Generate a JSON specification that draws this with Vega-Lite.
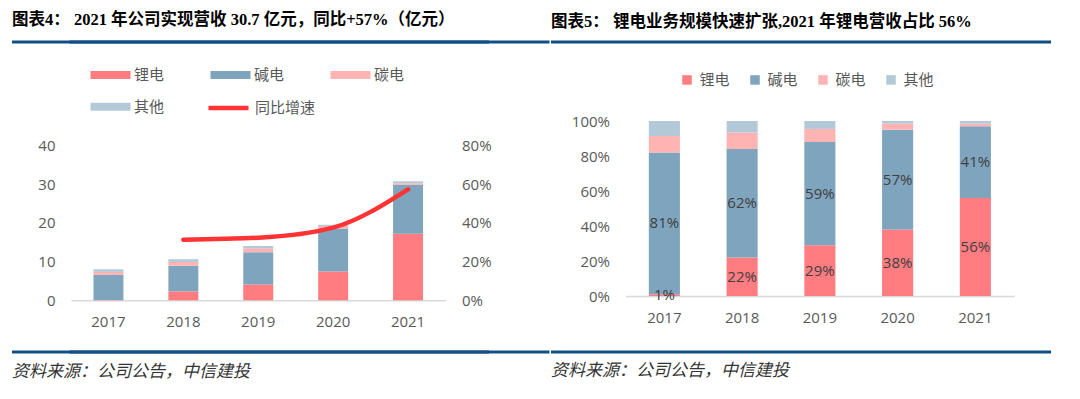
{
  "$schema": "https://vega.github.io/schema/vega-lite/v6.json",
  "padding": {"left": 12, "top": 12, "right": 0, "bottom": 8},
  "background": "white",
  "spacing": 10,
  "resolve": {"scale": {"color": "independent", "stroke": "independent"}, "legend": {"color": "independent", "stroke": "independent"}},
  "config": {
    "view": {"stroke": null},
    "font": "Open Sans",
    "axis": {"labelFont": "Open Sans", "labelFontSize": 15, "labelColor": "#595959", "grid": false, "ticks": false, "domain": false, "title": null, "labelOverlap": false},
    "legend": {"padding": 0, "title": null, "labelFont": "Noto Sans CJK SC", "labelFontSize": 15, "labelColor": "#595959"}
  },
  "datasets": {
    "rev": [
      {"year": "2017", "cat": "锂电", "k": 1, "v": 0.08},
      {"year": "2017", "cat": "碱电", "k": 2, "v": 6.48},
      {"year": "2017", "cat": "碳电", "k": 3, "v": 0.78},
      {"year": "2017", "cat": "其他", "k": 4, "v": 0.66},
      {"year": "2018", "cat": "锂电", "k": 1, "v": 2.3},
      {"year": "2018", "cat": "碱电", "k": 2, "v": 6.6},
      {"year": "2018", "cat": "碳电", "k": 3, "v": 1.0},
      {"year": "2018", "cat": "其他", "k": 4, "v": 0.7},
      {"year": "2019", "cat": "锂电", "k": 1, "v": 4.1},
      {"year": "2019", "cat": "碱电", "k": 2, "v": 8.3},
      {"year": "2019", "cat": "碳电", "k": 3, "v": 1.0},
      {"year": "2019", "cat": "其他", "k": 4, "v": 0.6},
      {"year": "2020", "cat": "锂电", "k": 1, "v": 7.4},
      {"year": "2020", "cat": "碱电", "k": 2, "v": 11.1},
      {"year": "2020", "cat": "碳电", "k": 3, "v": 0.7},
      {"year": "2020", "cat": "其他", "k": 4, "v": 0.3},
      {"year": "2021", "cat": "锂电", "k": 1, "v": 17.2},
      {"year": "2021", "cat": "碱电", "k": 2, "v": 12.6},
      {"year": "2021", "cat": "碳电", "k": 3, "v": 0.4},
      {"year": "2021", "cat": "其他", "k": 4, "v": 0.5}
    ],
    "growth": [
      {"year": "2018", "g": 0.313},
      {"year": "2019", "g": 0.323},
      {"year": "2020", "g": 0.375},
      {"year": "2021", "g": 0.573}
    ],
    "share": [
      {"year": "2017", "cat": "锂电", "k": 1, "p": 0.01},
      {"year": "2017", "cat": "碱电", "k": 2, "p": 0.81},
      {"year": "2017", "cat": "碳电", "k": 3, "p": 0.094},
      {"year": "2017", "cat": "其他", "k": 4, "p": 0.086},
      {"year": "2018", "cat": "锂电", "k": 1, "p": 0.22},
      {"year": "2018", "cat": "碱电", "k": 2, "p": 0.62},
      {"year": "2018", "cat": "碳电", "k": 3, "p": 0.095},
      {"year": "2018", "cat": "其他", "k": 4, "p": 0.065},
      {"year": "2019", "cat": "锂电", "k": 1, "p": 0.29},
      {"year": "2019", "cat": "碱电", "k": 2, "p": 0.59},
      {"year": "2019", "cat": "碳电", "k": 3, "p": 0.075},
      {"year": "2019", "cat": "其他", "k": 4, "p": 0.045},
      {"year": "2020", "cat": "锂电", "k": 1, "p": 0.38},
      {"year": "2020", "cat": "碱电", "k": 2, "p": 0.57},
      {"year": "2020", "cat": "碳电", "k": 3, "p": 0.035},
      {"year": "2020", "cat": "其他", "k": 4, "p": 0.015},
      {"year": "2021", "cat": "锂电", "k": 1, "p": 0.56},
      {"year": "2021", "cat": "碱电", "k": 2, "p": 0.41},
      {"year": "2021", "cat": "碳电", "k": 3, "p": 0.015},
      {"year": "2021", "cat": "其他", "k": 4, "p": 0.015}
    ]
  },
  "vconcat": [
    {
      "spacing": 0,
      "hconcat": [
        {
          "width": 477, "height": 1,
          "data": {"values": [{}]},
          "title": {"text": "图表4：  2021 年公司实现营收 30.7 亿元，同比+57%（亿元）", "anchor": "start", "frame": "group", "offset": 11, "dx": -59, "font": "Liberation Serif, Noto Sans CJK SC", "fontSize": 16.5, "fontWeight": "bold", "color": "#000000"},
          "mark": {"type": "rule", "color": "#0E4F85", "strokeWidth": 3, "strokeCap": "square"},
          "encoding": {
            "x": {"datum": 0, "type": "quantitative", "scale": {"domain": [0, 1]}, "axis": {"orient": "bottom", "position": -59, "translate": 0, "domain": true, "domainColor": "#0E4F85", "domainWidth": 3, "labels": false, "ticks": false, "minExtent": 14.5, "maxExtent": 14.5}},
            "x2": {"datum": 1},
            "y": {"datum": 0, "type": "quantitative", "scale": {"domain": [0, 1]}, "axis": null}
          }
        },
        {
          "width": 500, "height": 1,
          "data": {"values": [{}]},
          "title": {"text": "图表5：  锂电业务规模快速扩张,2021 年锂电营收占比 56%", "anchor": "start", "frame": "group", "offset": 11, "font": "Liberation Serif, Noto Sans CJK SC", "fontSize": 16.5, "fontWeight": "bold", "color": "#000000"},
          "mark": {"type": "point", "opacity": 0, "size": 0},
          "encoding": {"x": {"datum": 0, "type": "quantitative", "scale": {"domain": [0, 1]}, "axis": {"orient": "bottom", "translate": 0, "domain": true, "domainColor": "#0E4F85", "domainWidth": 3, "labels": false, "ticks": false, "minExtent": 14.5, "maxExtent": 14.5}}}
        }
      ]
    },
    {
      "spacing": 54.5,
      "resolve": {"scale": {"color": "independent", "stroke": "independent"}, "legend": {"color": "independent", "stroke": "independent"}},
      "hconcat": [
        {
          "width": 374.5, "height": 179.3,
          "layer": [
            {
              "data": {"name": "rev"},
              "mark": {"type": "bar"},
              "encoding": {
                "x": {"field": "year", "type": "nominal", "scale": {"paddingInner": 0.6, "paddingOuter": 0.3}, "axis": {"orient": "bottom", "domain": true, "domainColor": "#D9D9D9", "domainWidth": 1.5, "labelAngle": 0, "labelPadding": 14, "minExtent": 32, "maxExtent": 32}},
                "y": {"field": "v", "type": "quantitative", "stack": "zero", "scale": {"domain": [0, 46.27]}, "axis": {"orient": "left", "values": [0, 10, 20, 30, 40], "labelPadding": 16, "minExtent": 59, "maxExtent": 59}},
                "color": {"field": "cat", "type": "nominal", "scale": {"domain": ["锂电", "碱电", "碳电", "其他"], "range": ["#FF7C80", "#7FA4BE", "#FFB3B3", "#B4C9D8"]},
                  "legend": {"orient": "none", "legendX": 32, "legendY": -53.7, "direction": "horizontal", "columns": 3, "columnPadding": 45, "rowPadding": 16, "symbolSize": 64, "symbolType": "M-5,-1H5V1H-5Z", "symbolStrokeWidth": 0, "labelOffset": 16}},
                "order": {"field": "k"}
              }
            },
            {
              "data": {"name": "growth"},
              "mark": {"type": "line", "interpolate": "monotone", "strokeWidth": 4.5, "strokeCap": "round"},
              "encoding": {
                "x": {"field": "year", "type": "nominal"},
                "y": {"field": "g", "type": "quantitative", "scale": {"domain": [0, 0.9254]}, "axis": {"orient": "right", "format": ".0%", "values": [0, 0.2, 0.4, 0.6, 0.8], "labelPadding": 16, "minExtent": 48, "maxExtent": 48}},
                "stroke": {"datum": "同比增速", "type": "nominal", "scale": {"domain": ["同比增速"], "range": ["#FF3333"]},
                  "legend": {"orient": "none", "legendX": 135, "legendY": -35.5, "symbolType": "stroke", "symbolSize": 1600, "symbolStrokeWidth": 4.5, "labelOffset": 4}}
              }
            }
          ],
          "resolve": {"scale": {"y": "independent"}}
        },
        {
          "width": 388.75, "height": 175,
          "data": {"name": "share"},
          "encoding": {
            "x": {"field": "year", "type": "nominal", "scale": {"paddingInner": 0.6, "paddingOuter": 0.3}, "axis": {"orient": "bottom", "domain": true, "domainColor": "#D9D9D9", "domainWidth": 1.5, "labelAngle": 0, "labelPadding": 14, "minExtent": 32, "maxExtent": 32}}
          },
          "layer": [
            {
              "mark": {"type": "bar"},
              "encoding": {
                "y": {"field": "p", "type": "quantitative", "stack": "zero", "scale": {"domain": [0, 1]}, "axis": {"orient": "left", "format": ".0%", "values": [0, 0.2, 0.4, 0.6, 0.8, 1], "labelOverlap": false, "labelPadding": 16, "minExtent": 77, "maxExtent": 77}},
                "color": {"field": "cat", "type": "nominal", "scale": {"domain": ["锂电", "碱电", "碳电", "其他"], "range": ["#FF7C80", "#7FA4BE", "#FFB3B3", "#B4C9D8"]},
                  "legend": {"orient": "none", "legendX": 54, "legendY": -48.8, "direction": "horizontal", "columns": 4, "columnPadding": 17, "symbolType": "square", "symbolSize": 90, "symbolStrokeWidth": 0, "labelOffset": 5}},
                "order": {"field": "k"}
              }
            },
            {
              "transform": [{"filter": "datum.cat === '锂电' || datum.cat === '碱电'"}],
              "mark": {"type": "text", "font": "Open Sans", "fontSize": 15, "color": "#404040"},
              "encoding": {
                "y": {"field": "p", "type": "quantitative", "stack": "zero", "bandPosition": 0.5, "axis": {"orient": "left", "format": ".0%", "values": [0, 0.2, 0.4, 0.6, 0.8, 1], "labelOverlap": false, "labelPadding": 16, "minExtent": 77, "maxExtent": 77}},
                "text": {"field": "p", "type": "quantitative", "format": ".0%"},
                "order": {"field": "k"}
              }
            }
          ]
        }
      ]
    },
    {
      "spacing": 0,
      "hconcat": [
        {
          "width": 477, "height": 1,
          "data": {"values": [{}]},
          "title": {"text": "资料来源：公司公告，中信建投", "orient": "bottom", "anchor": "start", "frame": "group", "offset": 10, "dx": -59, "font": "Noto Sans CJK SC", "fontSize": 17, "fontStyle": "italic", "fontWeight": "normal", "color": "#333333"},
          "mark": {"type": "rule", "color": "#0E4F85", "strokeWidth": 3, "strokeCap": "square"},
          "encoding": {
            "x": {"datum": 0, "type": "quantitative", "scale": {"domain": [0, 1]}, "axis": {"orient": "top", "position": -59, "translate": 0, "domain": true, "domainColor": "#0E4F85", "domainWidth": 3, "labels": false, "ticks": false, "minExtent": 8.2, "maxExtent": 8.2}},
            "x2": {"datum": 1},
            "y": {"datum": 1, "type": "quantitative", "scale": {"domain": [0, 1]}, "axis": null}
          }
        },
        {
          "width": 500, "height": 1,
          "data": {"values": [{}]},
          "title": {"text": "资料来源：公司公告，中信建投", "orient": "bottom", "anchor": "start", "frame": "group", "offset": 10, "font": "Noto Sans CJK SC", "fontSize": 17, "fontStyle": "italic", "fontWeight": "normal", "color": "#333333"},
          "mark": {"type": "point", "opacity": 0, "size": 0},
          "encoding": {"x": {"datum": 0, "type": "quantitative", "scale": {"domain": [0, 1]}, "axis": {"orient": "top", "translate": 0, "domain": true, "domainColor": "#0E4F85", "domainWidth": 3, "labels": false, "ticks": false, "minExtent": 8.2, "maxExtent": 8.2}}}
        }
      ]
    }
  ]
}
